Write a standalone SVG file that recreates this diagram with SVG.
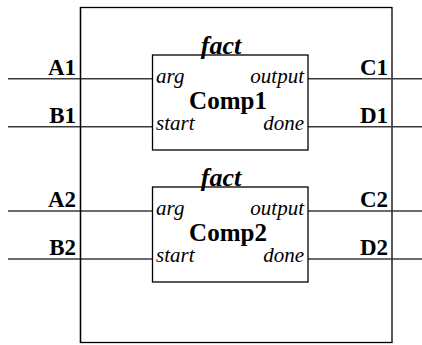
<svg xmlns="http://www.w3.org/2000/svg" width="422" height="345" viewBox="0 0 422 345">
  <defs>
    <style>
      .frame { fill: #fff; stroke: #000; stroke-width: 1.3; }
      .wire { stroke: #3a3a3a; stroke-width: 1.6; fill: none; }
    </style>
  </defs>

  <!-- enclosing block -->
  <g id="outer">
    <rect class="frame" x="80.5" y="7.5" width="311.5" height="335"/>
  </g>

  <!-- signal wires -->
  <g id="connectors">
    <line class="wire" x1="8" y1="78.7" x2="152.5" y2="78.7"/>
    <line class="wire" x1="8" y1="126.7" x2="152.5" y2="126.7"/>
    <line class="wire" x1="308" y1="78.7" x2="422" y2="78.7"/>
    <line class="wire" x1="308" y1="126.7" x2="422" y2="126.7"/>
    <line class="wire" x1="8" y1="211" x2="152.5" y2="211"/>
    <line class="wire" x1="8" y1="259" x2="152.5" y2="259"/>
    <line class="wire" x1="308" y1="211" x2="422" y2="211"/>
    <line class="wire" x1="308" y1="259" x2="422" y2="259"/>
    <line x1="80.5" y1="7" x2="80.5" y2="343" stroke="#000" stroke-width="1.3"/>
  </g>

  <!-- external signal names -->
  <g id="signals" font-family="Liberation Serif, serif" font-weight="bold" font-size="23" text-anchor="end">
    <text x="76" y="74.5">A1</text>
    <text x="76" y="122.5">B1</text>
    <text x="388" y="74.5">C1</text>
    <text x="388" y="122.5">D1</text>
    <text x="76" y="206.5">A2</text>
    <text x="76" y="254.5">B2</text>
    <text x="388" y="206.5">C2</text>
    <text x="388" y="254.5">D2</text>
  </g>

  <!-- first fact instance -->
  <g id="comp1" font-family="Liberation Serif, serif">
    <rect class="frame" x="152.5" y="55" width="155.5" height="95"/>
    <text x="221" y="54" text-anchor="middle" font-style="italic" font-weight="bold" font-size="26">fact</text>
    <text x="228" y="109" text-anchor="middle" font-weight="bold" font-size="25">Comp1</text>
    <text x="156" y="83" font-style="italic" font-size="21">arg</text>
    <text x="156" y="130" font-style="italic" font-size="21">start</text>
    <text x="304" y="83" text-anchor="end" font-style="italic" font-size="21">output</text>
    <text x="304" y="130" text-anchor="end" font-style="italic" font-size="21">done</text>
  </g>

  <!-- second fact instance -->
  <g id="comp2" font-family="Liberation Serif, serif">
    <rect class="frame" x="152.5" y="187" width="155.5" height="95"/>
    <text x="221" y="186" text-anchor="middle" font-style="italic" font-weight="bold" font-size="26">fact</text>
    <text x="228" y="241" text-anchor="middle" font-weight="bold" font-size="25">Comp2</text>
    <text x="156" y="215" font-style="italic" font-size="21">arg</text>
    <text x="156" y="262" font-style="italic" font-size="21">start</text>
    <text x="304" y="215" text-anchor="end" font-style="italic" font-size="21">output</text>
    <text x="304" y="262" text-anchor="end" font-style="italic" font-size="21">done</text>
  </g>
</svg>
